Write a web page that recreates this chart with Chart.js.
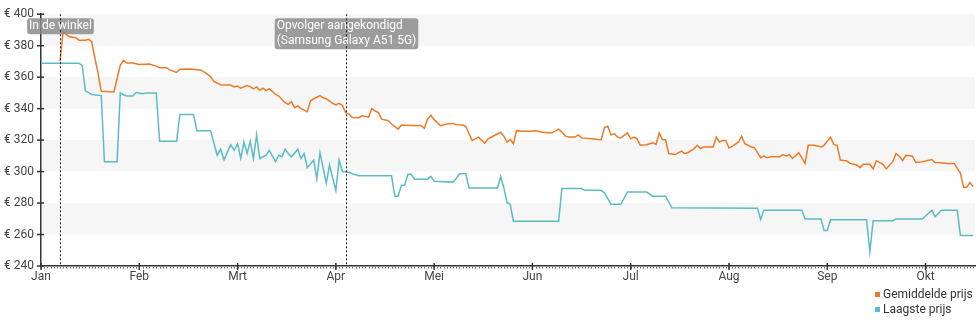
<!DOCTYPE html>
<html>
<head>
<meta charset="utf-8">
<script src="https://cdn.jsdelivr.net/npm/chart.js@4.4.1/dist/chart.umd.min.js"></script>
<style>
  html, body { margin: 0; padding: 0; background: #fff; }
  #wrap { position: relative; width: 980px; height: 325px; }
  #legend { position: absolute; left: 875px; top: 287px; font: 12px Roboto, sans-serif; color: #333; line-height: 15px; }
  #legend .item { display: flex; align-items: center; white-space: nowrap; }
  #legend .sw { display: inline-block; width: 5px; height: 5px; margin-right: 3px; }
</style>
</head>
<body>
<div id="wrap">
  <canvas id="chart" width="980" height="325"></canvas>
  <div id="legend"></div>
</div>
<script>
// Months of 2020 shown on the axis (leap year)
const monthLabels = ['Jan', 'Feb', 'Mrt', 'Apr', 'Mei', 'Jun', 'Jul', 'Aug', 'Sep', 'Okt'];
const monthDays = [31, 29, 31, 30, 31, 30, 31, 31, 30, 31];
const lastDay = '10-16';

// Price axis
const yMin = 240, yMax = 400, yStep = 20;
const bandFloors = [380, 340, 300, 260];

// Events marked on the timeline
const eventDates = ['01-07', '04-04'];
const eventTexts = [['In de winkel'], ['Opvolger aangekondigd', '(Samsung Galaxy A51 5G)']];

const seriesNames = ['Gemiddelde prijs', 'Laagste prijs'];
const seriesColors = ['#ec7a26', '#5cbcc4'];

// Average price
const avgDates = ['01-07','01-08','01-09','01-10','01-12','01-13','01-15','01-16','01-17','01-18','01-19','01-20','01-24','01-25','01-26','01-27','01-28','01-30',
  '02-01','02-04','02-06','02-07','02-09','02-10','02-12','02-13','02-16','02-19','02-20','02-22','02-23','02-25','02-26','02-28','02-29',
  '03-01','03-02','03-04','03-05','03-06','03-07','03-08','03-09','03-10','03-11','03-13','03-14','03-16','03-17','03-18','03-19','03-20','03-21','03-23','03-24','03-25','03-27','03-28','03-29','03-30','03-31',
  '04-01','04-02','04-03','04-04','04-05','04-06','04-08','04-09','04-11','04-12','04-13','04-14','04-15','04-17','04-18','04-20','04-21','04-24','04-27','04-28','04-29','04-30',
  '05-01','05-03','05-05','05-07','05-08','05-10','05-11','05-12','05-13','05-15','05-16','05-17','05-18','05-20','05-22','05-23','05-24','05-25','05-26','05-27','05-29','05-31',
  '06-02','06-04','06-06','06-07','06-09','06-10','06-11','06-12','06-14','06-15','06-16','06-19','06-21','06-22','06-23','06-24','06-25','06-26','06-27','06-28','06-30',
  '07-01','07-02','07-03','07-04','07-06','07-07','07-08','07-09','07-10','07-11','07-12','07-13','07-15','07-17','07-18','07-19','07-21','07-22','07-23','07-24','07-27','07-28','07-29','07-30','07-31',
  '08-01','08-02','08-04','08-05','08-06','08-08','08-09','08-10','08-11','08-12','08-13','08-14','08-17','08-18','08-19','08-20','08-21','08-23','08-25','08-26','08-28','08-30','08-31',
  '09-02','09-03','09-04','09-05','09-07','09-08','09-10','09-11','09-12','09-14','09-15','09-16','09-18','09-19','09-21','09-22','09-23','09-24','09-25','09-27','09-28','09-30',
  '10-01','10-03','10-04','10-06','10-08','10-10','10-12','10-13','10-14','10-15','10-16'];
const avgPrices = [370,389.4,387,385.6,385,383.4,383.4,384,382.5,372,362.5,351,350.6,359,367.5,370.6,369,369,
  368,368.3,367,366,366,364.6,363,365,365.2,364.6,363.5,360.4,357.3,355.2,355,355,353.8,
  354.4,353,354.6,354,352.5,353.8,351.7,353,351.5,352.7,349,348,343.8,342.7,344.4,340.6,341.7,340,338,344.8,346.3,348.3,346.9,346.3,344.8,343.3,
  342.3,343.3,342,337.5,336.5,334.4,334.2,335.4,334.6,340,338.5,337.5,333.3,332.3,330.2,327,329.6,329.2,329.2,327.5,333.3,335.8,
  333,329.2,330.2,330.6,329.8,329.6,328.8,324,319.8,321.9,319.8,318,320.8,322.9,325,322.5,318.8,320.4,317.7,326,325.6,325.6,
  326,325,324.6,324.6,327,325.2,322.7,321.9,321.9,323.3,321.4,320.8,320.4,320.2,328,328.8,323.3,324,321.9,321.4,324.6,
  320.8,321.9,320.8,316.7,317,317.7,318.3,317.3,324.6,320.4,320.2,311.5,310.8,313,311.5,312,314.6,316.7,314.6,315.6,315.6,321.9,318.8,319.8,319.8,
  315,316,318.8,322.5,317.7,315.6,315.2,312,308.8,309.8,308.8,309.4,309.4,310.8,310,310.8,308.3,312,305.2,316.7,316.7,315.6,316.7,
  321.9,317.3,316.7,307.3,306.7,305.2,304.2,302.5,304.6,304.6,301.7,306.9,304.6,301.7,306.3,311.5,309.8,306.9,310.4,309.8,305.8,306.3,
  306.7,307.7,305.8,305.6,305.2,305.2,299,290,290,293,290.5];

// Lowest price
const lowDates = ['01-01','01-13','01-14','01-15','01-17','01-20','01-21','01-25','01-26','01-27','01-28','01-30','01-31',
  '02-02','02-03','02-06','02-07','02-12','02-13','02-17','02-18','02-22','02-24','02-25','02-26','02-27','02-28','02-29',
  '03-01','03-02','03-03','03-04','03-05','03-06','03-07','03-08','03-10','03-11','03-13','03-14','03-15','03-16','03-17','03-18','03-20','03-21','03-22','03-23','03-25','03-26','03-27','03-28','03-29','03-30',
  '04-01','04-02','04-03','04-05','04-06','04-08','04-18','04-19','04-20','04-21','04-22','04-23','04-24','04-25','04-29','04-30',
  '05-01','05-07','05-08','05-09','05-11','05-12','05-21','05-22','05-23','05-24','05-25','05-26',
  '06-09','06-10','06-16','06-17','06-22','06-23','06-25','06-28','06-30',
  '07-06','07-08','07-12','07-14',
  '08-10','08-11','08-12','08-24','08-25','08-30','08-31',
  '09-01','09-02','09-13','09-14','09-15','09-21','09-22','09-30',
  '10-03','10-04','10-06','10-11','10-12','10-16'];
const lowPrices = [368.8,368.8,367.5,351.3,349,348.3,306.3,306.3,350,348.8,348,348,350.2,
  349.4,350,350,319.2,319.2,336.3,336.3,326,326,310.4,314.2,307.3,312.5,317,313.5,
  317.7,308.3,318.8,311.5,319.2,308.3,323.3,308.3,310.4,313.5,306.3,310.4,309.4,314.2,311.5,309.4,314.2,308.3,311.5,302.5,307.3,295.4,312,302,292.7,304.2,
  288,307.3,300,299.6,298.6,297.3,297.3,284.4,284.4,291.3,291.3,298.3,298.3,295.2,295.2,296.9,
  293.8,293.3,295.8,298.6,298.6,289.6,289.6,296.7,289.6,280.2,279.2,268.5,
  268.5,289.2,289.2,288.1,288.1,286.5,279.2,279.2,287,
  287,284.4,284.4,277,
  276.7,269.6,275.4,275.4,269.8,269.8,262.5,
  262.5,269.4,269.4,249,268.8,268.8,269.8,269.8,
  275.4,271.3,275.4,275.4,259.4,259.4];

// Month-based position: each month gets equal width on the axis
function axisPos(md) {
  const [m, d] = md.split('-').map(Number);
  return (m - 1) + (d - 1) / monthDays[m - 1];
}
const toPoints = (dates, prices) => dates.map((d, i) => ({ x: axisPos(d), y: prices[i] }));
const xMax = axisPos(lastDay) + 0.6 / 31;

const FONT = 'Roboto, "Noto Sans", sans-serif';

const decor = {
  id: 'decor',
  beforeDraw(chart) {
    const { ctx, chartArea: a, scales: { y } } = chart;
    ctx.save();
    ctx.fillStyle = '#f6f6f6';
    for (const lo of bandFloors) {
      const t = y.getPixelForValue(lo + 20), b = y.getPixelForValue(lo);
      ctx.fillRect(a.left, t, a.right - a.left, b - t);
    }
    ctx.restore();
  },
  afterDraw(chart) {
    const { ctx, chartArea: a, scales: { x, y } } = chart;
    ctx.save();
    // daily minor ticks below the time axis
    ctx.fillStyle = '#666';
    for (let m = 0; m < monthDays.length; m++) {
      for (let d = 0; d < monthDays[m]; d++) {
        const p = m + d / monthDays[m];
        if (p > xMax) break;
        const px = Math.round(x.getPixelForValue(p));
        ctx.fillRect(px, a.bottom + 1, 1, 1.5);
      }
    }
    // month ticks crossing the axis
    ctx.strokeStyle = '#333';
    ctx.lineWidth = 1.5;
    for (let m = 0; m < monthLabels.length; m++) {
      const px = x.getPixelForValue(m);
      ctx.beginPath();
      ctx.moveTo(px, a.bottom - 3);
      ctx.lineTo(px, a.bottom + 4);
      ctx.stroke();
    }
    // price ticks crossing the axis
    for (let v = yMin; v <= yMax; v += yStep) {
      const py = y.getPixelForValue(v);
      ctx.beginPath();
      ctx.moveTo(a.left - 4, py);
      ctx.lineTo(a.left + 3, py);
      ctx.stroke();
    }
    // event markers
    ctx.font = '12px ' + FONT;
    eventDates.forEach((d, i) => {
      const px = Math.round(x.getPixelForValue(axisPos(d))) + 0.5;
      const lines = eventTexts[i];
      const w = Math.max(...lines.map(t => ctx.measureText(t).width)) + 4;
      const h = lines.length * 15 + 1;
      const bx = px - w / 2, by = a.top + 4;
      ctx.fillStyle = 'rgba(140,140,140,0.85)';
      ctx.beginPath();
      ctx.roundRect(bx, by, w, h, 3);
      ctx.fill();
      ctx.strokeStyle = '#222';
      ctx.lineWidth = 1;
      ctx.setLineDash([2, 2]);
      ctx.beginPath();
      ctx.moveTo(px, a.top);
      ctx.lineTo(px, a.bottom);
      ctx.stroke();
      ctx.setLineDash([]);
      ctx.fillStyle = '#fff';
      ctx.textBaseline = 'middle';
      ctx.textAlign = 'left';
      lines.forEach((t, j) => ctx.fillText(t, bx + 2, by + 8 + j * 15));
    });
    ctx.restore();
  }
};

new Chart(document.getElementById('chart'), {
  type: 'line',
  data: {
    datasets: [
      { label: seriesNames[0], data: toPoints(avgDates, avgPrices), borderColor: seriesColors[0], backgroundColor: seriesColors[0], borderWidth: 1.5, pointRadius: 0, tension: 0 },
      { label: seriesNames[1], data: toPoints(lowDates, lowPrices), borderColor: seriesColors[1], backgroundColor: seriesColors[1], borderWidth: 1.5, pointRadius: 0, tension: 0 }
    ]
  },
  options: {
    responsive: false,
    animation: false,
    devicePixelRatio: 1,
    layout: { padding: { left: 0, right: 5, top: 10, bottom: 0 } },
    plugins: { legend: { display: false }, tooltip: { enabled: false } },
    scales: {
      x: {
        type: 'linear', min: 0, max: xMax,
        afterFit: s => { s.height = 59; },
        // one tick at the start of every month
        afterBuildTicks: s => { s.ticks = monthLabels.map((_, i) => ({ value: i })); },
        grid: { display: false, drawTicks: false },
        border: { display: true, color: '#333', width: 1.5 },
        ticks: { autoSkip: false, maxRotation: 0, padding: 4, color: '#444', font: { family: FONT, size: 12 },
          callback: v => monthLabels[v] ?? '' }
      },
      y: {
        min: yMin, max: yMax,
        afterFit: s => { s.width = 41; },
        grid: { display: false, drawTicks: false },
        border: { display: true, color: '#333', width: 1.5 },
        ticks: { stepSize: yStep, padding: 7, color: '#444', font: { family: FONT, size: 12 },
          callback: v => '€ ' + v }
      }
    }
  },
  plugins: [decor]
});

// Legend
const legend = document.getElementById('legend');
seriesNames.forEach((n, i) => {
  const row = document.createElement('div');
  row.className = 'item';
  const sw = document.createElement('span');
  sw.className = 'sw';
  sw.style.background = seriesColors[i];
  row.appendChild(sw);
  row.appendChild(document.createTextNode(n));
  legend.appendChild(row);
});
</script>
</body>
</html>
